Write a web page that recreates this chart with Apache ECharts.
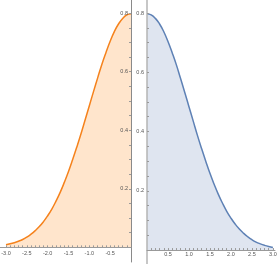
<!DOCTYPE html>
<html>
<head>
<meta charset="utf-8">
<script src="https://cdn.jsdelivr.net/npm/echarts@6/dist/echarts.min.js"></script>
<style>html,body{margin:0;padding:0;background:#fff;overflow:hidden}#c{width:277px;height:264px}</style>
</head>
<body>
<div id="c"></div>
<script>
// Right half (x >= 0)
const rightX = [0,0.1,0.2,0.3,0.4,0.5,0.6,0.7,0.8,0.9,1.0,1.1,1.2,1.3,1.4,1.5,1.6,1.7,1.8,1.9,2.0,2.1,2.2,2.3,2.4,2.5,2.6,2.7,2.8,2.9,3.0];
const rightY = [0.798,0.794,0.782,0.763,0.737,0.704,0.666,0.625,0.579,0.532,0.484,0.436,0.388,0.343,0.300,0.259,0.222,0.188,0.158,0.131,0.108,0.088,0.071,0.057,0.045,0.035,0.027,0.021,0.016,0.012,0.009];
// Left half (x <= 0)
const leftX = [-3.0,-2.9,-2.8,-2.7,-2.6,-2.5,-2.4,-2.3,-2.2,-2.1,-2.0,-1.9,-1.8,-1.7,-1.6,-1.5,-1.4,-1.3,-1.2,-1.1,-1.0,-0.9,-0.8,-0.7,-0.6,-0.5,-0.4,-0.3,-0.2,-0.1,0];
const leftY = [0.009,0.012,0.016,0.021,0.027,0.035,0.045,0.057,0.071,0.088,0.108,0.131,0.158,0.188,0.222,0.259,0.300,0.343,0.388,0.436,0.484,0.532,0.579,0.625,0.666,0.704,0.737,0.763,0.782,0.794,0.798];
// Tick labels
const leftXTicks = [-3.0,-2.5,-2.0,-1.5,-1.0,-0.5];
const rightXTicks = [0.5,1.0,1.5,2.0,2.5,3.0];
const yTicks = [0.2,0.4,0.6,0.8];

const leftMinor = [];
for (let i = -30; i <= -1; i++) leftMinor.push(i / 10);
const rightMinor = [];
for (let i = 1; i <= 30; i++) rightMinor.push(i / 10);
const yMinor = [];
for (let i = 1; i <= 16; i++) yMinor.push(i / 20);

const axisCol = '#9a9a9a';
const labCol = '#555555';
const font = { fontFamily: 'Liberation Sans', fontSize: 5.5, color: labCol };

const chart = echarts.init(document.getElementById('c'), null, { renderer: 'canvas' });
chart.setOption({
  animation: false,
  grid: [
    { left: 0, top: 0, width: 131, height: 262, outerBoundsMode: 'none', containLabel: false },
    { left: 147, top: 0, width: 128, height: 264, outerBoundsMode: 'none', containLabel: false }
  ],
  xAxis: [
    { gridIndex: 0, type: 'value', min: -3.144, max: 0, z: 10,
      axisLine: { onZero: true, lineStyle: { color: axisCol, width: 1 } },
      axisTick: { inside: true, length: 2, customValues: leftMinor, lineStyle: { color: axisCol } },
      axisLabel: Object.assign({ customValues: leftXTicks, margin: -12, formatter: v => v.toFixed(1) }, font),
      splitLine: { show: false } },
    { gridIndex: 1, type: 'value', min: 0, max: 3.05, z: 10,
      axisLine: { onZero: true, lineStyle: { color: axisCol, width: 1 } },
      axisTick: { inside: true, length: 2, customValues: rightMinor, lineStyle: { color: axisCol } },
      axisLabel: Object.assign({ customValues: rightXTicks, margin: -12.3, formatter: v => v.toFixed(1) }, font),
      splitLine: { show: false } }
  ],
  yAxis: [
    { gridIndex: 0, type: 'value', min: -0.05, max: 0.845, position: 'right', z: 10,
      axisLine: { show: true, onZero: false, lineStyle: { color: '#8a8a8a', width: 1 } },
      axisTick: { inside: true, length: 2, customValues: yMinor, lineStyle: { color: axisCol } },
      axisLabel: Object.assign({ inside: true, customValues: yTicks, margin: 3, formatter: v => v.toFixed(1) }, font),
      splitLine: { show: false } },
    { gridIndex: 1, type: 'value', min: -0.047, max: 0.844, position: 'left', z: 10,
      axisLine: { show: true, onZero: false, lineStyle: { color: '#b5b5b5', width: 1.5 } },
      axisTick: { inside: true, length: 2, customValues: yMinor, lineStyle: { color: axisCol } },
      axisLabel: Object.assign({ customValues: yTicks, margin: 3, formatter: v => v.toFixed(1) }, font),
      splitLine: { show: false } }
  ],
  series: [
    { type: 'line', xAxisIndex: 0, yAxisIndex: 0, smooth: true, symbol: 'none',
      data: leftX.map((x, i) => [x, leftY[i]]),
      lineStyle: { color: '#f5821c', width: 1.5 },
      areaStyle: { color: '#ffe5cc', opacity: 1 } },
    { type: 'line', xAxisIndex: 1, yAxisIndex: 1, smooth: true, symbol: 'none',
      data: rightX.map((x, i) => [x, rightY[i]]),
      lineStyle: { color: '#5e81b5', width: 1.5 },
      areaStyle: { color: '#dfe5f0', opacity: 1 } }
  ]
});
</script>
</body>
</html>
